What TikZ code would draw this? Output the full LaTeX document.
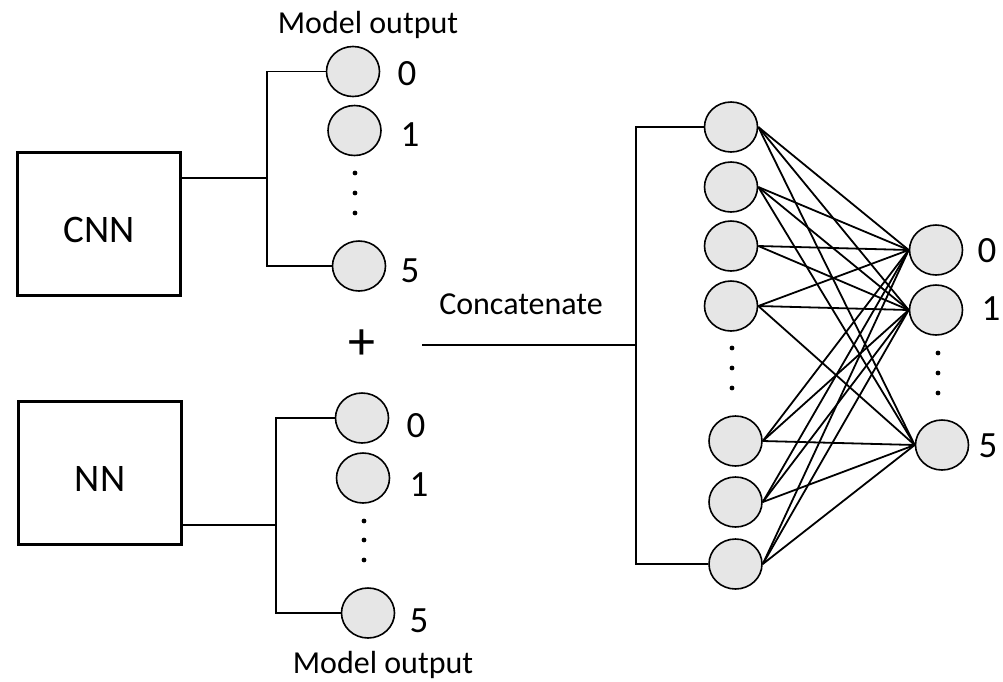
\documentclass[tikz,border=0pt]{standalone}
\usepackage{fontspec}
\setmainfont{Carlito}
\usetikzlibrary{shapes.geometric}

\definecolor{unitgray}{RGB}{230,230,230}

\tikzset{
  unit/.style={ellipse,draw,line width=1.6pt,fill=unitgray,
    minimum width=53pt,minimum height=50pt,inner sep=0pt},
  model/.style={rectangle,draw,line width=2.8pt,
    minimum width=163pt,minimum height=143pt,
    text height=37pt,text depth=0pt,font=\fontsize{39}{42}\selectfont},
  wire/.style={line width=1.8pt},
  digit/.style={anchor=base,font=\fontsize{37}{40}\selectfont},
  caption/.style={anchor=base,font=\fontsize{32}{36}\selectfont},
}

\begin{document}
\begin{tikzpicture}[x=1pt,y=-1pt]
      \useasboundingbox (0,0) rectangle (1003,681);

      % the two models
      \node[model] (cnn) at (99,224) {CNN};
      \node[model] (nn)  at (100,473) {NN};

      \begin{scope}[every node/.style={unit}]
        % outputs of the CNN
        \node (c0) at (353,71.5) {};
        \node (c1) at (354.5,130.5) {};
        \node (c5) at (359,266) {};
        % outputs of the NN
        \node (n0) at (362,418) {};
        \node (n1) at (363,478) {};
        \node (n5) at (368,613) {};
        % concatenated layer
        \node (h1) at (731,127) {};
        \node (h2) at (731,187) {};
        \node (h3) at (731,246) {};
        \node (h4) at (731,306) {};
        \node (h5) at (735.5,441) {};
        \node (h6) at (735.5,502) {};
        \node (h7) at (735.5,564) {};
        % final classes
        \node (o0) at (936,250) {};
        \node (o1) at (936,310) {};
        \node (o5) at (942,445) {};
      \end{scope}

      % class numbers
      \node[digit] (c0l) at (407,85)  {0};
      \node[digit] (c1l) at (410,146) {1};
      \node[digit] (c5l) at (410,282) {5};
      \node[digit] (n0l) at (416,437) {0};
      \node[digit] (n1l) at (419,496) {1};
      \node[digit] (n5l) at (419,632) {5};
      \node[digit] (o0l) at (987,262) {0};
      \node[digit] (o1l) at (991,320) {1};
      \node[digit] (o5l) at (988,457) {5};

      \node[caption] (ctop) at (368,33)  {Model output};
      \node[caption] (cbot) at (383,673) {Model output};
      \node[caption] (cat)  at (521,314) {Concatenate};
      \node[font=\fontsize{54}{56}\selectfont] (plus) at (362,345) {+};

      % skipped units
      \foreach \x/\y in {355/173,355/193,355/213, 364/521,364/540,364/560,
                         732/348,732/368,732/388, 938/353,938/373,938/393}
        \fill (\x,\y) circle (2.4);

      % brackets
      \coordinate (cj) at (267,178);
      \coordinate (nj) at (276,525);
      \coordinate (hj) at (636,345);
      \coordinate (pj) at (422,345);

      \draw[wire] (cj -| cnn.east) -- (cj);
      \draw[wire] (c0.west) -- (c0.west -| cj) -- (c5.west -| cj) -- (c5.west);
      \draw[wire] (nj -| nn.east) -- (nj);
      \draw[wire] (n0.west) -- (n0.west -| nj) -- (n5.west -| nj) -- (n5.west);
      \draw[wire] (pj) -- (hj);
      \draw[wire] (h1.west) -- (h1.west -| hj) -- (h7.west -| hj) -- (h7.west);

      \begin{scope}[every edge/.style={draw,wire}]
        \path (h1.east) edge (o0.west) edge (o1.west) edge (o5.west);
        \path (h2.east) edge (o0.west) edge (o1.west) edge (o5.west);
        \path (h3.east) edge (o0.west) edge (o1.west);
        \path (h4.east) edge (o0.west) edge (o1.west) edge (o5.west);
        \path (h5.east) edge (o0.west) edge (o1.west) edge (o5.west);
        \path (h6.east) edge (o0.west) edge (o1.west) edge (o5.west);
        \path (h7.east) edge (o0.west) edge (o1.west) edge (o5.west);
      \end{scope}

    \end{tikzpicture}
\end{document}
